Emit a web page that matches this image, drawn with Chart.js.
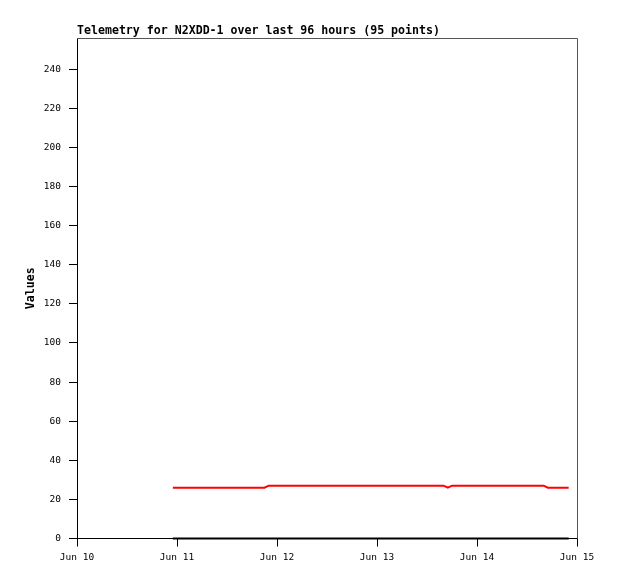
<!DOCTYPE html>
<html>
<head>
<meta charset="utf-8">
<title>Telemetry N2XDD-1</title>
<script src="https://cdn.jsdelivr.net/npm/chart.js@4.4.1/dist/chart.umd.min.js"></script>
<style>
  html, body { margin: 0; padding: 0; background: #fff; }
  #wrap { width: 618px; height: 579px; }
</style>
</head>
<body>
<div id="wrap"><canvas id="telemetry" width="618" height="579"></canvas></div>
<script>
// hours counted from Jun 10 00:00 (one hourly sample missing -> 95 points)
const hours = [
    23, 24, 25, 26, 27, 28, 29, 30, 31, 32, 33, 34, 35, 36, 37, 38, 39, 40, 41, 42, 43, 44, 45,
    46, 47, 48, 49, 50, 51, 52, 53, 54, 55, 56, 57, 58, 59, 60, 61, 62, 63, 64, 65, 66, 67, 68, 69,
    71, 72, 73, 74, 75, 76, 77, 78, 79, 80, 81, 82, 83, 84, 85, 86, 87, 88,
    89,
    90, 91, 92, 93, 94, 95, 96, 97, 98, 99, 100, 101, 102, 103, 104, 105, 106, 107, 108, 109, 110, 111, 112,
    113, 114, 115, 116, 117, 118
];

// red channel
const redValues = [
    26, 26, 26, 26, 26, 26, 26, 26, 26, 26, 26, 26, 26, 26, 26, 26, 26, 26, 26, 26, 26, 26, 26,
    27, 27, 27, 27, 27, 27, 27, 27, 27, 27, 27, 27, 27, 27, 27, 27, 27, 27, 27, 27, 27, 27, 27, 27,
    27, 27, 27, 27, 27, 27, 27, 27, 27, 27, 27, 27, 27, 27, 27, 27, 27, 27,
    26,
    27, 27, 27, 27, 27, 27, 27, 27, 27, 27, 27, 27, 27, 27, 27, 27, 27, 27, 27, 27, 27, 27, 27,
    26, 26, 26, 26, 26, 26
];

// black channel (flat at zero)
const blackValues = [
    0, 0, 0, 0, 0, 0, 0, 0, 0, 0, 0, 0, 0, 0, 0, 0, 0, 0, 0, 0, 0, 0, 0,
    0, 0, 0, 0, 0, 0, 0, 0, 0, 0, 0, 0, 0, 0, 0, 0, 0, 0, 0, 0, 0, 0, 0, 0,
    0, 0, 0, 0, 0, 0, 0, 0, 0, 0, 0, 0, 0, 0, 0, 0, 0, 0,
    0,
    0, 0, 0, 0, 0, 0, 0, 0, 0, 0, 0, 0, 0, 0, 0, 0, 0, 0, 0, 0, 0, 0, 0,
    0, 0, 0, 0, 0, 0
];

const dayLabels = ['Jun 10', 'Jun 11', 'Jun 12', 'Jun 13', 'Jun 14', 'Jun 15'];

function toPoints(values) {
    return values.map((v, i) => ({ x: hours[i], y: v }));
}

// top and right edges of the plot box are grey
const frame = {
    id: 'frame',
    afterDraw(chart) {
        const a = chart.chartArea;
        const ctx = chart.ctx;
        ctx.save();
        ctx.strokeStyle = '#555555';
        ctx.lineWidth = 1;
        ctx.beginPath();
        ctx.moveTo(a.left, Math.round(a.top) + 0.5);
        ctx.lineTo(Math.round(a.right) + 0.5, Math.round(a.top) + 0.5);
        ctx.lineTo(Math.round(a.right) + 0.5, a.bottom);
        ctx.stroke();
        ctx.restore();
    }
};

const mono = "'DejaVu Sans Mono', 'Liberation Mono', monospace";

new Chart(document.getElementById('telemetry'), {
    type: 'line',
    data: {
        datasets: [{
            label: 'red',
            data: toPoints(redValues),
            borderColor: '#ff0000',
            borderWidth: 2,
            pointRadius: 0,
            tension: 0,
            clip: false
        }, {
            label: 'black',
            data: toPoints(blackValues),
            borderColor: '#000000',
            borderWidth: 2,
            pointRadius: 0,
            tension: 0,
            clip: false
        }]
    },
    options: {
        responsive: false,
        animation: false,
        layout: { padding: { top: 24.08, right: 41, left: 0, bottom: 0 } },
        plugins: {
            legend: { display: false },
            tooltip: { enabled: false },
            title: {
                display: true,
                text: 'Telemetry for N2XDD-1 over last 96 hours (95 points)',
                align: 'start',
                fullSize: false,
                color: '#000',
                font: { family: mono, size: 11.6, weight: 'bold', lineHeight: 1.2 },
                padding: { top: 0, bottom: 0 }
            }
        },
        scales: {
            x: {
                type: 'linear',
                min: 0,
                max: 120,
                ticks: {
                    stepSize: 24,
                    color: '#000',
                    padding: 5,
                    maxRotation: 0,
                    font: { family: mono, size: 9.5 },
                    callback: v => dayLabels[v / 24]
                },
                grid: { drawOnChartArea: false, drawTicks: true, tickLength: 8, color: '#000' },
                border: { color: '#000' },
                afterFit: s => { s.height = 40.5; }
            },
            y: {
                min: 0,
                max: 256,
                ticks: {
                    stepSize: 20,
                    color: '#000',
                    padding: 8,
                    font: { family: mono, size: 9.5 }
                },
                afterBuildTicks: s => { s.ticks = s.ticks.filter(t => t.value % 20 === 0); },
                grid: { drawOnChartArea: false, drawTicks: true, tickLength: 8, color: '#000' },
                border: { color: '#000' },
                title: {
                    display: true,
                    text: 'Values',
                    color: '#000',
                    font: { family: mono, size: 11.6, weight: 'bold', lineHeight: 1.2 },
                    padding: { top: 24, bottom: 0 }
                },
                afterFit: s => { s.width = 77; }
            }
        }
    },
    plugins: [frame]
});
</script>
</body>
</html>
